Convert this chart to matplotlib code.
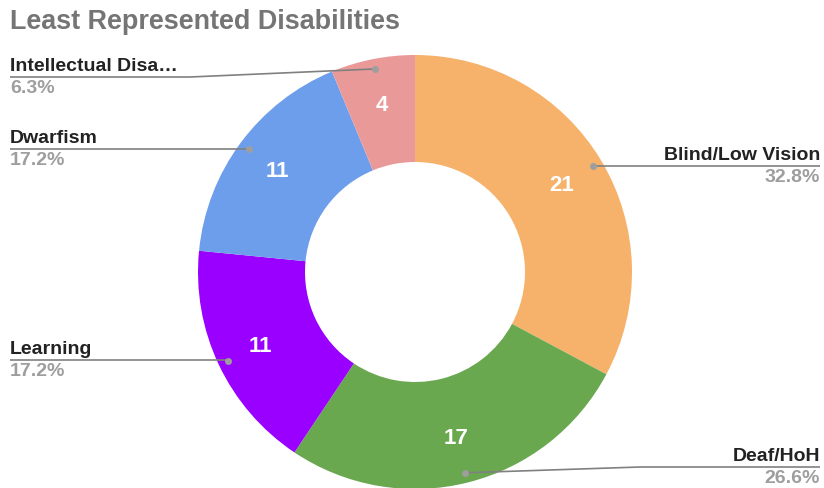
from decimal import Decimal, ROUND_HALF_UP
import numpy as np
import matplotlib.pyplot as plt

labels = ["Blind/Low Vision", "Deaf/HoH", "Learning", "Dwarfism", "Intellectual Disa…"]
counts = [21, 17, 11, 11, 4]
colors = ["#F6B26B", "#6AA84F", "#9900FF", "#6D9EEB", "#EA9999"]

# label row (y in pixels from top) and side for each slice
label_y = [167, 468, 361, 150, 78]
label_side = ["right", "right", "left", "left", "left"]

W, H = 824, 489
cx, cy = 415, H - 273
R, r_in = 217, 110

plt.rcParams['font.family'] = ['Liberation Sans', 'DejaVu Sans']

fig = plt.figure(figsize=(W / 100, H / 100), dpi=100)
ax = fig.add_axes([0, 0, 1, 1])

wedges, _ = ax.pie(counts, colors=colors, startangle=90, counterclock=False,
                   radius=R, center=(cx, cy), frame=True,
                   wedgeprops=dict(width=R - r_in, linewidth=0))
ax.set_xlim(0, W)
ax.set_ylim(0, H)
ax.set_aspect('equal')
ax.axis('off')


def pct(n, tot):
    v = Decimal(n * 100) / Decimal(tot)
    return str(v.quantize(Decimal("0.1"), rounding=ROUND_HALF_UP)) + "%"


total = sum(counts)
for w, n, lab, ly, side in zip(wedges, counts, labels, label_y, label_side):
    mid = np.deg2rad((w.theta1 + w.theta2) / 2)
    # value inside the ring
    rm = 171
    ax.text(cx + rm * np.cos(mid), cy + rm * np.sin(mid), str(n),
            color="white", fontsize=16, fontweight="bold",
            ha="center", va="center")
    # leader line from a dot near the outer edge
    dx, dy = cx + 207 * np.cos(mid), cy + 207 * np.sin(mid)
    yl = H - ly
    if side == "left":
        bend = dx if abs(dy - yl) < 2 else 190
        xs, ys = [dx, bend, 10], [dy, yl, yl]
        tx, ha = 10, "left"
    else:
        bend = dx if abs(dy - yl) < 2 else 640
        xs, ys = [dx, bend, 820], [dy, yl, yl]
        tx, ha = 820, "right"
    ax.plot(xs, ys, color="#808080", lw=1.2, solid_capstyle="butt")
    ax.plot(dx, dy, "o", color="#9E9E9E", ms=5, mec="none")
    ax.text(tx, yl + 3, lab, color="#222222", fontsize=14,
            fontweight="bold", ha=ha, va="bottom")
    ax.text(tx, yl - 2, pct(n, total), color="#9E9E9E",
            fontsize=14, fontweight="bold", ha=ha, va="top")

fig.text(10 / W, 1 - 22 / H, "Least Represented Disabilities", color="#757575",
         fontsize=19.4, fontweight="bold", ha="left", va="center")

fig.savefig("out.png", dpi=100, facecolor="white")
